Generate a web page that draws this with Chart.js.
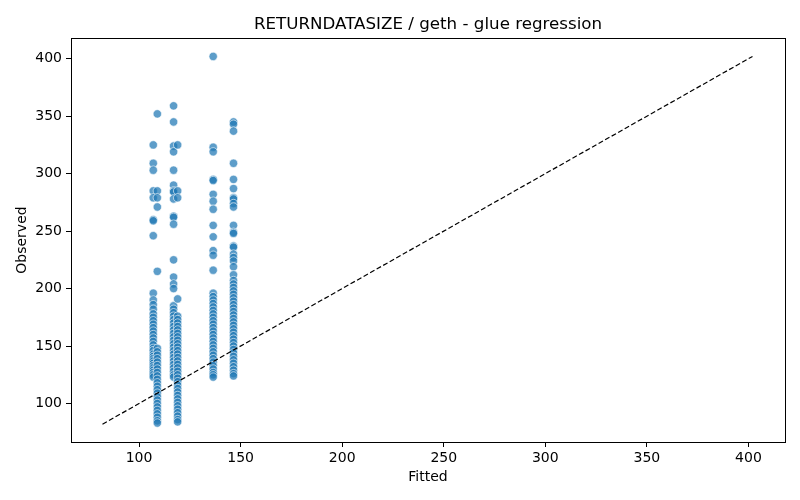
<!DOCTYPE html>
<html>
<head>
<meta charset="utf-8">
<script src="https://cdn.jsdelivr.net/npm/chart.js@4"></script>
<style>
  html, body { margin: 0; padding: 0; background: #fff; }
  #wrap { width: 800px; height: 500px; }
</style>
</head>
<body>
<div id="wrap"><canvas id="myChart" width="800" height="500"></canvas></div>
<script>
const fittedLevels = [107, 109, 117, 119, 136.5, 146.5];

const obs107 = [325, 309, 303, 285, 279, 260, 259, 246,
  196, 190, 186, 182, 178, 175, 172, 169, 166, 163, 160, 157, 154, 151, 148, 146,
  143, 141, 139, 137, 135, 133, 131, 129, 127, 125, 123];
const obs109 = [352, 285, 279, 271, 215,
  148, 145, 142, 139, 136, 133, 130, 127, 124, 121, 118, 115, 112, 109, 106, 103,
  100, 97, 94, 91, 88, 85, 83];
const obs117 = [359, 345, 324, 319, 303, 290, 285, 284, 278, 263, 262, 256, 225, 210, 204, 200,
  185, 182, 179, 176, 173, 170, 167, 164, 161, 158, 155, 152, 149, 146, 143, 140,
  137, 134, 131, 128, 125, 123];
const obs119 = [325, 285, 279, 191,
  176, 173, 170, 167, 164, 161, 158, 155, 152, 149, 146, 143, 140, 137, 134, 131,
  128, 125, 122, 119, 116, 113, 110, 107, 104, 101, 98, 95, 92, 89, 86, 84];
const obs137 = [402, 323, 319, 295, 294, 282, 276, 269, 255, 245, 233, 229, 216,
  196, 193, 190, 187, 184, 181, 178, 175, 172, 169, 166, 163, 160, 157, 154, 151,
  148, 145, 142, 139, 136, 133, 130, 127, 125, 123];
const obs147 = [345, 343, 337, 309, 295, 287, 279, 278, 274, 271, 255, 249, 248, 237, 236,
  230, 227, 224, 219, 212,
  207, 204, 201, 198, 195, 192, 189, 186, 183, 180, 177, 174, 171, 168, 165, 162,
  159, 156, 153, 150, 147, 144, 141, 138, 135, 132, 129, 126, 124];

const columns = [obs107, obs109, obs117, obs119, obs137, obs147];
const diagonal = [82, 402];
const tickValues = [100, 150, 200, 250, 300, 350, 400];

const points = [];
columns.forEach((col, i) => {
  col.forEach(v => points.push({ x: fittedLevels[i], y: v }));
});

const font = { family: 'DejaVu Sans', size: 14 };

// box around the plot (matplotlib spines)
const frame = {
  id: 'frame',
  afterDraw(chart) {
    const { ctx, chartArea: a } = chart;
    ctx.save();
    ctx.strokeStyle = '#000';
    ctx.lineWidth = 1;
    ctx.strokeRect(Math.round(a.left) + 0.5, Math.round(a.top) + 0.5,
      Math.round(a.right - a.left), Math.round(a.bottom - a.top));
    ctx.restore();
  }
};

function axis(title, isX) {
  return {
    type: 'linear',
    min: 66.5,
    max: 418,
    afterBuildTicks: s => { s.ticks = tickValues.map(v => ({ value: v })); },
    afterFit: s => { if (isX) s.height = 58; else s.width = 71; },
    grid: { drawOnChartArea: false, drawTicks: true, tickLength: 5, color: '#000' },
    border: { display: true, color: '#000' },
    ticks: { color: '#000', font, padding: isX ? 3 : 4, maxRotation: 0 },
    title: {
      display: true, text: title, color: '#000', font,
      padding: isX ? { top: 0, bottom: 14 } : { top: 14, bottom: 0 }
    }
  };
}

new Chart(document.getElementById('myChart').getContext('2d'), {
  type: 'scatter',
  data: {
    datasets: [
      {
        label: 'y = x',
        data: diagonal.map(v => ({ x: v, y: v })),
        showLine: true,
        borderColor: '#000',
        borderWidth: 1.2,
        borderDash: [5, 2.5],
        pointRadius: 0,
        order: 0
      },
      {
        label: 'obs',
        data: points,
        backgroundColor: 'rgba(31,119,180,0.72)',
        borderColor: 'rgba(255,255,255,0.75)',
        borderWidth: 0.8,
        pointRadius: 4.2,
        order: 1
      }
    ]
  },
  options: {
    responsive: false,
    animation: false,
    devicePixelRatio: 1,
    layout: { padding: { left: 0, right: 15, top: 0, bottom: 0 } },
    plugins: {
      legend: { display: false },
      tooltip: { enabled: false },
      title: {
        display: true,
        fullSize: false,
        text: 'RETURNDATASIZE / geth - glue regression',
        color: '#000',
        font: { family: 'DejaVu Sans', size: 16.7, weight: 'normal' },
        padding: { top: 15, bottom: 3 }
      }
    },
    scales: {
      x: axis('Fitted', true),
      y: axis('Observed', false)
    }
  },
  plugins: [frame]
});
</script>
</body>
</html>
